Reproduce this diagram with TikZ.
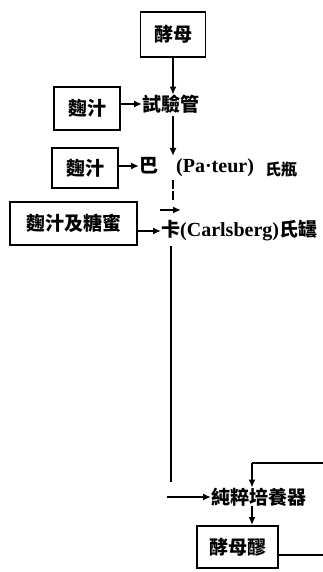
\documentclass[tikz,border=0pt]{standalone}
\usepackage{fontspec}
\setmainfont{Liberation Serif}
\newfontfamily\cjk{Noto Sans CJK TC}
\usetikzlibrary{arrows.meta}
\begin{document}
\begin{tikzpicture}[x=1pt,y=-1pt,
  boxnode/.style={draw,line width=1.8pt,inner sep=0pt,font=\cjk\bfseries\fontsize{19}{19}\selectfont},
  txt/.style={inner sep=0pt,anchor=west,font=\cjk\bfseries\fontsize{19}{19}\selectfont},
  lat/.style={inner sep=0pt,anchor=west,font=\bfseries\fontsize{20}{20}\selectfont},
  conn/.style={line width=1.7pt},
  arr/.style={conn,-{Latex[length=8pt,width=7pt]}}]
\useasboundingbox (0,0) rectangle (323,572);
% boxes
\node[boxnode,minimum width=65pt,minimum height=45pt] (jm) at (173,34.5) {酵母};
\node[boxnode,minimum width=66pt,minimum height=43pt] (m1) at (87,108.5) {麴汁};
\node[boxnode,minimum width=66pt,minimum height=40pt] (m2) at (85,168) {麴汁};
\node[boxnode,minimum width=127pt,minimum height=43pt] (m3) at (73.5,223.5) {麴汁及糖蜜};
\node[boxnode,minimum width=81pt,minimum height=42pt] (jb) at (237.5,547) {酵母醪};
% text nodes
\node[txt] (sy) at (142,104) {試驗管};
\node[txt] (ba) at (139,166) {巴};
\node[lat] (pa) at (176,168) {(Pa·teur)};
\node[txt,font=\cjk\bfseries\fontsize{16}{16}\selectfont] (sp) at (265,169) {氏瓶};
\node[txt] (ka) at (161,231) {卡\textbf{\rmfamily\fontsize{20}{20}\selectfont(Carlsberg)}氏罎};
\node[txt] (py) at (211,497) {純粹培養器};
% coordinates
\coordinate (c1) at (173,156);
\coordinate (d1) at (173,180);
\coordinate (d2) at (173,201);
\coordinate (s1) at (160,210);
\coordinate (s2) at (181,210);
\coordinate (v1) at (171,246);
\coordinate (v2) at (171,482);
\coordinate (h1) at (167,497);
\coordinate (f1) at (323,463);
\coordinate (f2) at (252,463);
\coordinate (e1) at (323,555);
% connectors
\draw[arr] (jm.south) -- (jm.south |- sy.north);
\draw[arr] (m1.east |- sy.west) -- (sy.west);
\draw[arr] (173,116) -- (c1);
\draw[arr] (m2.east |- ba.west) -- (ba.west);
\draw[conn,dash pattern=on 9pt off 2pt] (d1) -- (d2);
\draw[arr] (s1) -- (s2);
\draw[arr] (m3.east |- ka.west) -- (ka.west);
\draw[conn,line width=2pt] (v1) -- (v2);
\draw[arr] (h1) -- (py.west);
\draw[conn] (f1) -- (f2);
\draw[arr] (f2) -- (f2 |- py.north);
\draw[arr] (f2 |- py.south) -- (f2 |- jb.north);
\draw[conn] (jb.east |- e1) -- (e1);
\end{tikzpicture}
\end{document}
